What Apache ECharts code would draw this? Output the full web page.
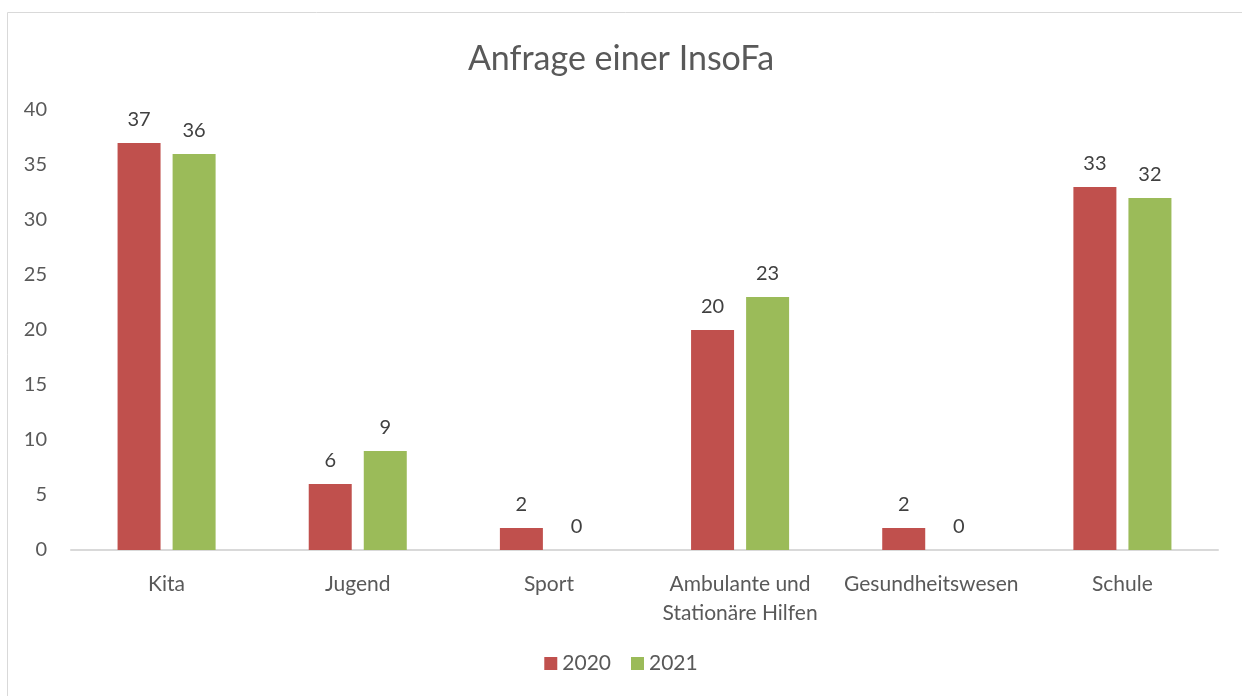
<!DOCTYPE html>
<html><head><meta charset="utf-8">
<script src="https://cdn.jsdelivr.net/npm/echarts@6/dist/echarts.min.js"></script>
<style>html,body{margin:0;padding:0;background:#fff}#c{width:1242px;height:696px}</style>
</head><body><div id="c"></div>
<script>
const categories = ['Kita','Jugend','Sport','Ambulante und\nStationäre Hilfen','Gesundheitswesen','Schule'];
const values2020 = [37, 6, 2, 20, 2, 33];
const values2021 = [36, 9, 0, 23, 0, 32];
const seriesNames = ['2020','2021'];
const FONT = 'Lato';
const chart = echarts.init(document.getElementById('c'));
const lbl = {show:true, position:'top', distance:13, color:'#404040', fontFamily:FONT, fontSize:20};
chart.setOption({
  animation:false,
  graphic:[{type:'rect', shape:{x:7.5,y:12.5,width:1240,height:700}, style:{fill:'none',stroke:'#d9d9d9',lineWidth:1}, silent:true}],
  title:{text:'Anfrage einer InsoFa', left:'center', top:37, textStyle:{fontFamily:FONT, fontSize:34, fontWeight:'normal', color:'#595959'}},
  legend:{bottom:17, left:'center', itemWidth:13, itemHeight:13, itemGap:20, icon:'rect', textStyle:{fontFamily:FONT,fontSize:21,color:'#595959'}, data:seriesNames},
  grid:{left:71, right:24, top:110, bottom:146},
  xAxis:{type:'category', data:categories, axisLine:{lineStyle:{color:'#d9d9d9',width:2}}, axisTick:{show:false},
    axisLabel:{color:'#595959', fontFamily:FONT, fontSize:21, margin:20, lineHeight:29, interval:0}},
  yAxis:{type:'value', min:0, max:40, interval:5, splitLine:{show:false}, axisLine:{show:false}, axisTick:{show:false},
    axisLabel:{color:'#595959', fontFamily:FONT, fontSize:20, margin:24}},
  series:[
    {name:seriesNames[0], type:'bar', data:values2020, barWidth:43, barGap:'28%', itemStyle:{color:'#C0504D'}, label:lbl},
    {name:seriesNames[1], type:'bar', data:values2021, barWidth:43, itemStyle:{color:'#9BBB59'}, label:lbl}
  ]
});
</script></body></html>
